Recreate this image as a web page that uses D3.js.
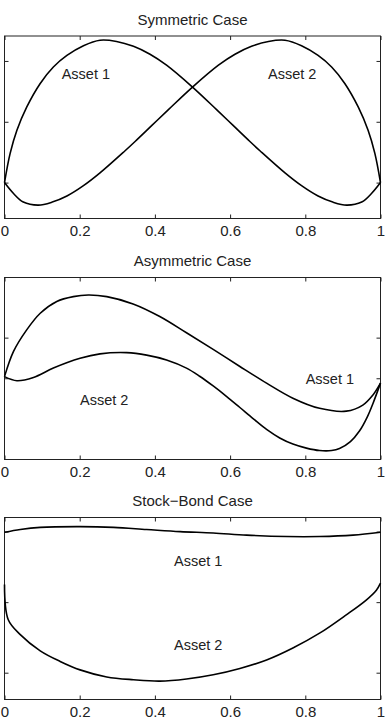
<!DOCTYPE html>
<html>
<head>
<meta charset="utf-8">
<script src="https://cdn.jsdelivr.net/npm/d3@7"></script>
<style>
  body { margin: 0; background: #fff; }
  svg { display: block; font-family: "Liberation Sans", Arial, sans-serif; }
</style>
</head>
<body>
<div id="chart"></div>
<script>
// x axis shared by all three panels
const xTicks = [0, 0.2, 0.4, 0.6, 0.8, 1];
const xTickLabels = ["0", "0.2", "0.4", "0.6", "0.8", "1"];

const titles = ["Symmetric Case", "Asymmetric Case", "Stock\u2212Bond Case"];

// y axes have unlabeled ticks, values read in tick units
const yDomains = [[-0.59, 2.41], [-2.0, 2.48], [-0.38, 2.2]];
const yTicks = [[0, 1, 2], [0, 1], [0, 1, 2]];

// Symmetric case
const symX1 = [0, 0.015, 0.033, 0.059, 0.095, 0.130, 0.166, 0.210, 0.254, 0.298, 0.343, 0.387, 0.431, 0.5, 0.564, 0.608, 0.652, 0.68, 0.746, 0.79, 0.834, 0.873, 0.910, 0.95, 0.976, 1];
const symAsset1 = [0, 0.48, 0.86, 1.24, 1.63, 1.90, 2.09, 2.25, 2.34, 2.32, 2.24, 2.11, 1.93, 1.57, 1.20, 0.94, 0.68, 0.52, 0.16, -0.05, -0.22, -0.32, -0.37, -0.32, -0.18, 0];
const symX2 = [0, 0.024, 0.05, 0.09, 0.127, 0.166, 0.21, 0.254, 0.32, 0.348, 0.392, 0.436, 0.5, 0.569, 0.613, 0.657, 0.702, 0.746, 0.79, 0.834, 0.87, 0.905, 0.941, 0.967, 0.985, 1];
const symAsset2 = [0, -0.18, -0.32, -0.37, -0.32, -0.22, -0.05, 0.16, 0.52, 0.68, 0.94, 1.20, 1.57, 1.93, 2.11, 2.24, 2.32, 2.34, 2.25, 2.09, 1.90, 1.63, 1.24, 0.86, 0.48, 0];

// Asymmetric case
const asymX1 = [0, 0.024, 0.059, 0.095, 0.139, 0.183, 0.223, 0.272, 0.342, 0.413, 0.484, 0.555, 0.626, 0.697, 0.767, 0.838, 0.909, 0.953, 0.980, 1];
const asymAsset1 = [0.04, 0.66, 1.19, 1.60, 1.89, 2.01, 2.05, 2.01, 1.83, 1.52, 1.12, 0.71, 0.29, -0.12, -0.49, -0.74, -0.81, -0.66, -0.41, -0.12];
const asymX2 = [0, 0.033, 0.077, 0.130, 0.201, 0.254, 0.325, 0.378, 0.431, 0.484, 0.519, 0.555, 0.591, 0.626, 0.662, 0.697, 0.732, 0.767, 0.803, 0.838, 0.87, 0.891, 0.92, 0.944, 0.965, 0.980, 1];
const asymAsset2 = [0.04, -0.06, 0.02, 0.25, 0.49, 0.60, 0.63, 0.57, 0.45, 0.25, 0.05, -0.19, -0.45, -0.72, -1.00, -1.26, -1.47, -1.62, -1.72, -1.78, -1.78, -1.73, -1.56, -1.30, -0.95, -0.62, -0.12];

// Stock-Bond case
const sbX1 = [0, 0.042, 0.095, 0.201, 0.290, 0.378, 0.467, 0.555, 0.644, 0.750, 0.838, 0.927, 1];
const sbAsset1 = [1.99, 2.03, 2.06, 2.07, 2.06, 2.03, 2.00, 1.98, 1.95, 1.93, 1.93, 1.95, 1.99];
const sbX2 = [0, 0.010, 0.042, 0.095, 0.148, 0.201, 0.272, 0.343, 0.413, 0.484, 0.555, 0.626, 0.697, 0.767, 0.838, 0.909, 0.962, 0.989, 1];
const sbAsset2 = [1.25, 0.75, 0.54, 0.31, 0.16, 0.04, -0.06, -0.10, -0.12, -0.09, -0.03, 0.06, 0.18, 0.35, 0.56, 0.82, 1.03, 1.17, 1.27];

const seriesX = [[symX1, symX2], [asymX1, asymX2], [sbX1, sbX2]];
const seriesY = [[symAsset1, symAsset2], [asymAsset1, asymAsset2], [sbAsset1, sbAsset2]];

// label anchors in data units (x, y)
const labelText = [["Asset 1", "Asset 2"], ["Asset 1", "Asset 2"], ["Asset 1", "Asset 2"]];
const labelPos = [
  [[0.152, 1.70], [0.701, 1.70]],
  [[0.801, -0.14], [0.201, -0.66]],
  [[0.451, 1.51], [0.451, 0.32]]
];

const width = 388, height = 720;
const left = 4.5, right = 380.5;
const panelTop = [36, 277.5, 517.5];
const panelBottom = [218.5, 459.5, 699.5];

const svg = d3.select("#chart").append("svg")
  .attr("width", width)
  .attr("height", height);

const x = d3.scaleLinear().domain([0, 1]).range([left, right]);

titles.forEach((title, p) => {
  const y = d3.scaleLinear().domain(yDomains[p]).range([panelBottom[p], panelTop[p]]);
  const g = svg.append("g");

  // box
  g.append("rect")
    .attr("x", left).attr("y", panelTop[p])
    .attr("width", right - left).attr("height", panelBottom[p] - panelTop[p])
    .attr("fill", "none").attr("stroke", "#222").attr("stroke-width", 1);

  // inward ticks on all four sides
  const bottomAxis = g.append("g")
    .attr("transform", `translate(0,${panelBottom[p]})`)
    .call(d3.axisBottom(x).tickValues(xTicks).tickSize(-4).tickPadding(7)
      .tickFormat((d, i) => xTickLabels[i]));
  bottomAxis.select(".domain").remove();
  bottomAxis.selectAll("text").attr("font-size", 15).attr("fill", "#222")
    .attr("font-family", "Liberation Sans, Arial, sans-serif");
  bottomAxis.selectAll("line").attr("stroke", "#222");

  const topAxis = g.append("g")
    .attr("transform", `translate(0,${panelTop[p]})`)
    .call(d3.axisTop(x).tickValues(xTicks).tickSize(-4).tickFormat(""));
  topAxis.select(".domain").remove();
  topAxis.selectAll("line").attr("stroke", "#222");

  const leftAxis = g.append("g")
    .attr("transform", `translate(${left},0)`)
    .call(d3.axisLeft(y).tickValues(yTicks[p]).tickSize(-4).tickFormat(""));
  leftAxis.select(".domain").remove();
  leftAxis.selectAll("line").attr("stroke", "#222");

  const rightAxis = g.append("g")
    .attr("transform", `translate(${right},0)`)
    .call(d3.axisRight(y).tickValues(yTicks[p]).tickSize(-4).tickFormat(""));
  rightAxis.select(".domain").remove();
  rightAxis.selectAll("line").attr("stroke", "#222");

  // title
  g.append("text")
    .attr("x", (left + right) / 2)
    .attr("y", panelTop[p] - 11.5)
    .attr("text-anchor", "middle")
    .attr("font-size", 15)
    .attr("fill", "#222")
    .text(title);

  // curves
  const line = d3.line()
    .x(d => x(d[0]))
    .y(d => y(d[1]))
    .curve(d3.curveCatmullRom.alpha(0.5));

  seriesX[p].forEach((xs, s) => {
    const pts = xs.map((xv, i) => [xv, seriesY[p][s][i]]);
    g.append("path")
      .datum(pts)
      .attr("d", line)
      .attr("fill", "none")
      .attr("stroke", "#000")
      .attr("stroke-width", 1.6);
  });

  // labels
  labelText[p].forEach((t, s) => {
    g.append("text")
      .attr("x", x(labelPos[p][s][0]))
      .attr("y", y(labelPos[p][s][1]))
      .attr("font-size", 14.5)
      .attr("fill", "#222")
      .text(t);
  });
});
</script>
</body>
</html>
